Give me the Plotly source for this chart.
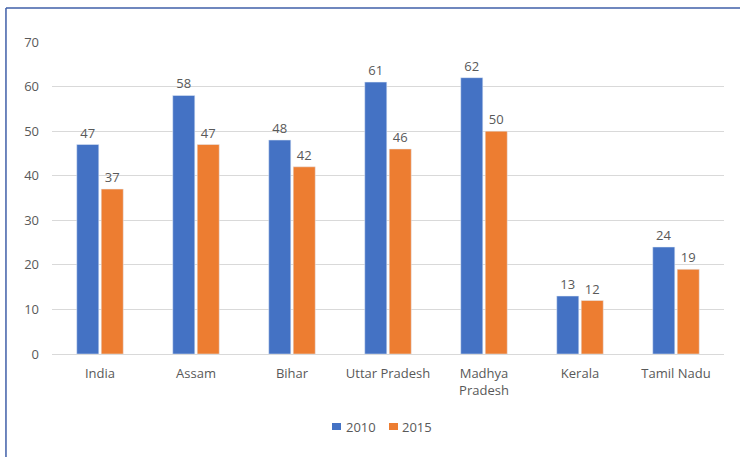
import plotly.graph_objects as go

categories = ["India", "Assam", "Bihar", "Uttar Pradesh", "Madhya<br>Pradesh", "Kerala", "Tamil Nadu"]
series_names = ["2010", "2015"]
values_2010 = [47, 58, 48, 61, 62, 13, 24]
values_2015 = [37, 47, 42, 46, 50, 12, 19]
y_ticks = [0, 10, 20, 30, 40, 50, 60, 70]

FONT = "Open Sans, Noto Sans, sans-serif"
GREY = "#595959"
COLORS = ["#4472C4", "#ED7D31"]

fig = go.Figure()
for name, vals, col in zip(series_names, [values_2010, values_2015], COLORS):
    fig.add_trace(go.Bar(name=name, x=categories, y=vals, marker_color=col,
                         text=vals, textposition="outside", cliponaxis=False,
                         textfont=dict(size=13, color=GREY, family=FONT)))

# legend drawn compactly (Excel style)
legend_shapes = []
legend_annots = []
sq_x = [(332, 341), (389, 398)]
txt_x = [344, 400]
for (x0, x1), tx, name, col in zip(sq_x, txt_x, series_names, COLORS):
    legend_shapes.append(dict(type="rect", xref="paper", yref="paper",
                              x0=(x0 - 52) / 672, x1=(x1 - 52) / 672,
                              y0=(354 - 430) / 312, y1=(354 - 423) / 312,
                              fillcolor=col, line=dict(width=0)))
    legend_annots.append(dict(xref="paper", yref="paper", x=(tx - 52) / 672, y=(354 - 426.5) / 312,
                              xanchor="left", yanchor="middle", text=name, showarrow=False,
                              font=dict(size=13, color=GREY, family=FONT)))

fig.update_layout(
    width=740, height=457,
    margin=dict(l=52, r=16, t=42, b=103, autoexpand=False),
    plot_bgcolor="white", paper_bgcolor="white",
    barmode="group", bargap=0.49, bargroupgap=0.1,
    font=dict(family=FONT, size=13, color=GREY),
    showlegend=False,
    xaxis=dict(showgrid=False, showline=False, ticks="", ticklabelstandoff=10,
               tickfont=dict(size=13, color=GREY)),
    yaxis=dict(range=[0, 70], tickvals=y_ticks, showgrid=True, gridcolor="#D9D9D9",
               zeroline=True, zerolinecolor="#D9D9D9", zerolinewidth=1,
               showline=False, ticks="", ticklabelstandoff=12,
               tickfont=dict(size=13, color=GREY)),
    shapes=[
        dict(type="line", xref="paper", yref="paper", x0=-0.0685, x1=1.2, y0=1.109, y1=1.109,
             line=dict(color="#3F5FA8", width=1.5)),
        dict(type="line", xref="paper", yref="paper", x0=-0.0685, x1=-0.0685, y0=1.109, y1=-0.5,
             line=dict(color="#3F5FA8", width=1.5)),
    ] + legend_shapes,
    annotations=legend_annots,
)

fig.write_html("out.html", config={"displayModeBar": False})
with open("out.html", encoding="utf-8") as f:
    html = f.read()
html = html.replace("<body>", '<body style="margin:0;padding:0;overflow:hidden">', 1)
with open("out.html", "w", encoding="utf-8") as f:
    f.write(html)
